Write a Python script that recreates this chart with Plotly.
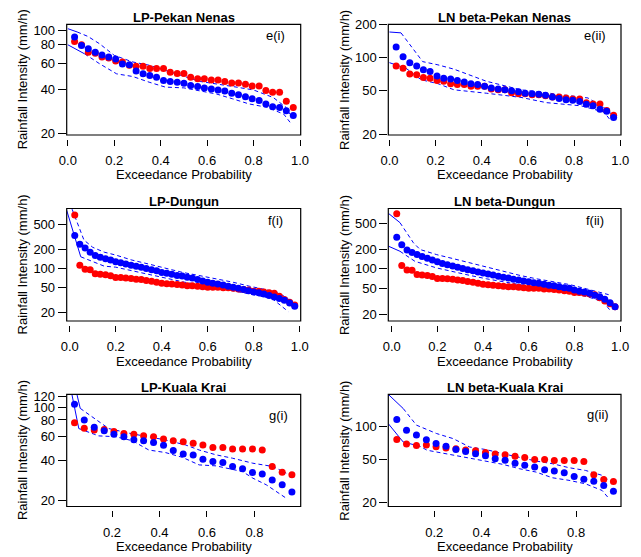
import plotly.graph_objects as go

W, H = 641, 557

# ---------------- data ----------------
# exceedance probabilities of the ranked observations
p_pekan = [0.029, 0.059, 0.088, 0.118, 0.147, 0.176, 0.206, 0.235, 0.265, 0.294, 0.324,
           0.353, 0.382, 0.412, 0.441, 0.471, 0.5, 0.529, 0.559, 0.588, 0.618, 0.647,
           0.676, 0.706, 0.735, 0.765, 0.794, 0.824, 0.853, 0.882, 0.912, 0.941, 0.971]
p_dungun = [0.022, 0.044, 0.067, 0.089, 0.111, 0.133, 0.156, 0.178, 0.2, 0.222, 0.244,
            0.267, 0.289, 0.311, 0.333, 0.356, 0.378, 0.4, 0.422, 0.444, 0.467, 0.489,
            0.511, 0.533, 0.556, 0.578, 0.6, 0.622, 0.644, 0.667, 0.689, 0.711, 0.733,
            0.756, 0.778, 0.8, 0.822, 0.844, 0.867, 0.889, 0.911, 0.933, 0.956, 0.978]
p_krai = [0.042, 0.083, 0.125, 0.167, 0.208, 0.25, 0.292, 0.333, 0.375, 0.417, 0.458,
          0.5, 0.542, 0.583, 0.625, 0.667, 0.708, 0.75, 0.792, 0.833, 0.875, 0.917, 0.958]

# observed rainfall intensity (mm/h) - red
obs_pekan = [84, 80, 71, 70, 66, 65, 62, 61, 58, 57, 57, 55, 55, 55, 52, 51, 51, 48, 47,
             47, 46, 46, 45, 44, 44, 43, 42, 42, 39, 38, 38, 33, 30]
obs_dungun = [700, 112, 96, 95, 82, 80, 79, 76, 71, 71, 70, 69, 67, 66, 64, 62, 60, 58,
              57, 56, 55, 54, 53, 53, 52, 51, 50, 50, 50, 49, 49, 48, 47, 46, 45, 43, 43,
              42, 41, 40, 36, 32, 29, 26]
obs_krai = [76.4, 69.3, 67.3, 68, 65.5, 63.5, 62.5, 61, 60, 57.7, 56, 55, 53.5, 52, 49.7,
            49.7, 48.6, 48.6, 48.6, 47.7, 35.9, 32.5, 31.1]

# simulated median rainfall intensity (mm/h) - blue
sim_lp_pekan = [90, 79, 75, 71, 68, 66, 64, 59, 58.5, 53, 50.7, 49.4, 48, 45.6, 45, 44.5,
                43.8, 42.2, 41.6, 40.7, 40, 39.4, 38.7, 37.5, 36.6, 35.5, 34.3, 33.4, 31.7,
                30.3, 30, 28.5, 26.4]
sim_ln_pekan = [125, 102, 90, 84, 77.5, 75, 68, 65, 64, 62, 60, 58, 57, 55, 53, 52, 51, 50,
                49, 47.5, 47, 46.5, 45.5, 44, 42.5, 41.5, 41, 40, 37.7, 36.5, 34, 32.6, 28.6]
sim_lp_dungun = [330, 240, 210, 180, 160, 150, 142, 135, 127, 122, 117, 112, 108, 104, 99,
                 95, 91, 86, 83, 80, 77, 75, 72, 70, 66, 63, 60, 58, 56, 54, 52, 50, 48,
                 46, 44, 42, 41, 39, 37, 35, 33, 31, 28, 25]
sim_ln_dungun = [305, 235, 195, 178, 166, 154, 145, 137, 128, 121, 115, 110, 106, 101, 97,
                 93, 89, 86, 83, 80, 77, 74, 72, 69, 67, 65, 63, 61, 60, 58, 56, 55, 53,
                 51, 50, 47, 45, 44, 42, 39, 37, 34, 30, 26]
sim_lp_krai = [104.7, 80, 70.5, 66.5, 62.5, 60, 56.8, 56, 54.2, 51.8, 47.2, 44.6, 43.8,
               40.7, 39.1, 38.4, 35.9, 34.5, 32.4, 31.6, 28.5, 26.2, 23.1]
sim_ln_krai = [117, 93, 84, 76, 70, 66, 61.5, 59, 56.4, 54, 50.7, 49, 46, 44, 42.4, 40,
               38.9, 37.5, 34.7, 32.7, 31.2, 28.6, 25.3]

# uncertainty bounds (blue dashed)
lp_pekan_up_x = [0, 0.04, 0.086, 0.137, 0.2, 0.28, 0.35, 0.42, 0.51, 0.57, 0.71, 0.8, 0.885, 0.94, 0.957]
lp_pekan_up = [102.6, 97.5, 91, 81, 67.6, 61, 58, 53.5, 48, 45, 41.6, 39.4, 35, 30, 27]
lp_pekan_lo_x = [0, 0.072, 0.137, 0.21, 0.28, 0.35, 0.42, 0.5, 0.57, 0.64, 0.71, 0.78, 0.86, 0.93, 0.957]
lp_pekan_lo = [79.8, 69.3, 59.3, 50.7, 48.6, 44.5, 41.2, 40.7, 39, 37, 34.3, 31.7, 30, 27, 23.8]

ln_pekan_up_x = [0, 0.05, 0.144, 0.21, 0.28, 0.42, 0.5, 0.57, 0.71, 0.86, 0.94, 0.96]
ln_pekan_up = [171, 168, 92, 86, 78.5, 61, 55, 51, 47, 43, 34, 31]
ln_pekan_lo_x = [0, 0.072, 0.137, 0.21, 0.28, 0.42, 0.57, 0.68, 0.83, 0.93, 0.96]
ln_pekan_lo = [90, 80, 63, 58, 51, 47.5, 43.5, 39, 36.5, 32, 26.5]

lp_dungun_up_x = [-0.013, 0.011, 0.062, 0.1, 0.15, 0.2, 0.27, 0.35, 0.42, 0.49, 0.56, 0.64, 0.71, 0.78, 0.85, 0.91, 0.95]
lp_dungun_up = [1400, 855, 280, 215, 180, 162, 135, 115, 99, 86, 77, 68, 60, 52, 46, 40, 33]
lp_dungun_lo_x = [-0.013, 0.048, 0.1, 0.15, 0.2, 0.3, 0.4, 0.5, 0.6, 0.7, 0.8, 0.88, 0.95]
lp_dungun_lo = [830, 152, 127, 108, 104, 86, 71, 60, 52, 45, 38, 33, 20.5]

ln_dungun_up_x = [-0.015, 0.036, 0.095, 0.124, 0.197, 0.27, 0.343, 0.416, 0.489, 0.562, 0.635, 0.708, 0.781, 0.854, 0.927, 0.95]
ln_dungun_up = [714, 513, 251, 198, 165, 143, 123, 105, 91, 79, 70, 62.5, 57, 49, 42, 40]
ln_dungun_lo_x = [-0.015, 0.036, 0.102, 0.197, 0.27, 0.343, 0.416, 0.489, 0.562, 0.635, 0.708, 0.781, 0.854, 0.927, 0.956]
ln_dungun_lo = [223, 186, 130, 103, 89, 79, 70, 62.5, 57, 52, 46, 42, 37.5, 31, 23]

lp_krai_up_x = [0.042, 0.066, 0.186, 0.285, 0.426, 0.51, 0.567, 0.638, 0.708, 0.793, 0.878, 0.934]
lp_krai_up = [148, 97.7, 69, 63, 56.7, 52, 47.7, 43.9, 41.4, 38, 35.9, 32]
lp_krai_lo_x = [0.025, 0.06, 0.144, 0.214, 0.285, 0.355, 0.426, 0.497, 0.567, 0.638, 0.708, 0.75, 0.793, 0.85, 0.934]
lp_krai_lo = [140, 69, 60.8, 60, 56, 47.7, 45.6, 42, 36.9, 36.3, 33.9, 32.9, 29.4, 26.2, 20.8]

ln_krai_up_x = [0.006, 0.069, 0.125, 0.21, 0.28, 0.35, 0.42, 0.49, 0.56, 0.63, 0.7, 0.77, 0.84, 0.91, 0.94]
ln_krai_up = [200, 148, 103.7, 86.7, 77.8, 65, 61.5, 56.4, 51.8, 48.2, 45.5, 41.8, 39.4, 35.5, 31.9]
ln_krai_lo_x = [0.006, 0.069, 0.14, 0.17, 0.21, 0.28, 0.35, 0.42, 0.49, 0.56, 0.63, 0.7, 0.77, 0.84, 0.91, 0.94]
ln_krai_lo = [107, 72.4, 66, 60.7, 58.5, 54.5, 51.8, 48.2, 44.9, 40.9, 38.1, 33.7, 31.9, 29.6, 25.7, 21.5]

titles = ["LP-Pekan Nenas", "LN beta-Pekan Nenas", "LP-Dungun", "LN beta-Dungun",
          "LP-Kuala Krai", "LN beta-Kuala Krai"]
tags = ["e(i)", "e(ii)", "f(i)", "f(ii)", "g(i)", "g(ii)"]
x_label = "Exceedance Probability"
y_label = "Rainfall Intensity (mm/h)"

xt_full = [0, 0.2, 0.4, 0.6, 0.8, 1.0]
xt_full_text = ["0.0", "0.2", "0.4", "0.6", "0.8", "1.0"]
xt_krai = [0.2, 0.4, 0.6, 0.8]
xt_krai_text = ["0.2", "0.4", "0.6", "0.8"]

yt_e1 = [20, 40, 60, 80, 100]
yt_e2 = [20, 50, 100, 200]
yt_f = [20, 50, 100, 200, 500]
yt_g1 = [20, 40, 60, 80, 100, 120]
yt_g2 = [20, 50, 100]

panels = [
    dict(p=p_pekan, obs=obs_pekan, sim=sim_lp_pekan,
         bounds=[(lp_pekan_up_x, lp_pekan_up), (lp_pekan_lo_x, lp_pekan_lo)],
         xt=xt_full, xtt=xt_full_text, yt=yt_e1),
    dict(p=p_pekan, obs=obs_pekan, sim=sim_ln_pekan,
         bounds=[(ln_pekan_up_x, ln_pekan_up), (ln_pekan_lo_x, ln_pekan_lo)],
         xt=xt_full, xtt=xt_full_text, yt=yt_e2),
    dict(p=p_dungun, obs=obs_dungun, sim=sim_lp_dungun,
         bounds=[(lp_dungun_up_x, lp_dungun_up), (lp_dungun_lo_x, lp_dungun_lo)],
         xt=xt_full, xtt=xt_full_text, yt=yt_f),
    dict(p=p_dungun, obs=obs_dungun, sim=sim_ln_dungun,
         bounds=[(ln_dungun_up_x, ln_dungun_up), (ln_dungun_lo_x, ln_dungun_lo)],
         xt=xt_full, xtt=xt_full_text, yt=yt_f),
    dict(p=p_krai, obs=obs_krai, sim=sim_lp_krai,
         bounds=[(lp_krai_up_x, lp_krai_up), (lp_krai_lo_x, lp_krai_lo)],
         xt=xt_krai, xtt=xt_krai_text, yt=yt_g1),
    dict(p=p_krai, obs=obs_krai, sim=sim_ln_krai,
         bounds=[(ln_krai_up_x, ln_krai_up), (ln_krai_lo_x, ln_krai_lo)],
         xt=xt_krai, xtt=xt_krai_text, yt=yt_g2),
]

# ---------------- layout geometry (pixels in the page) ----------------
col_px = [(66.7, 300.7), (388.3, 621.0)]
row_px = [(24.3, 135.0), (208.5, 321.0), (394.3, 506.5)]
x_ranges = [[-0.005, 1.003], [-0.005, 1.003], [-0.013, 1.004], [-0.015, 1.004],
            [0.009, 0.995], [0.006, 0.99]]
y_ranges = [[1.29, 2.041], [1.297, 2.303], [1.163, 2.948], [1.197, 2.927],
            [1.256, 2.095], [1.261, 2.302]]
tag_px = [(275, 35), (595, 35), (275, 220), (595, 220), (278, 415), (598, 414)]

RED = "#FF0000"
BLUE = "#0000FF"
FONT = "Liberation Sans, Arial, sans-serif"

OFF = 8                      # default page body margin
FW, FH = W - OFF, H - OFF    # figure size so it fills the window


def fx(px):
    return (px - OFF) / FW


def fy(py):
    return 1 - (py - OFF) / FH


fig = go.Figure()
layout = dict(width=FW, height=FH,
              margin=dict(l=0, r=0, t=0, b=0, pad=0, autoexpand=False),
              paper_bgcolor="white", plot_bgcolor="white", showlegend=False,
              font=dict(family=FONT, size=13, color="black"))
annotations = []
shapes = []

for k, pan in enumerate(panels):
    n = k + 1
    sfx = "" if n == 1 else str(n)
    xa, ya = "x" + sfx, "y" + sfx
    col, row = k % 2, k // 2
    x0, x1 = col_px[col]
    y0, y1 = row_px[row]

    # bounds: first segment solid, remainder dashed
    for bx, by in pan["bounds"]:
        fig.add_trace(go.Scatter(x=bx[:2], y=by[:2], mode="lines", xaxis=xa, yaxis=ya,
                                 line=dict(color=BLUE, width=1), hoverinfo="skip"))
        fig.add_trace(go.Scatter(x=bx[1:], y=by[1:], mode="lines", xaxis=xa, yaxis=ya,
                                 line=dict(color=BLUE, width=1, dash="4px,3px"),
                                 hoverinfo="skip"))
    fig.add_trace(go.Scatter(x=pan["p"], y=pan["obs"], mode="markers", xaxis=xa, yaxis=ya,
                             marker=dict(color=RED, size=7, line=dict(width=0))))
    fig.add_trace(go.Scatter(x=pan["p"], y=pan["sim"], mode="markers", xaxis=xa, yaxis=ya,
                             marker=dict(color=BLUE, size=7, line=dict(width=0))))

    layout["xaxis" + sfx] = dict(domain=[fx(x0), fx(x1)], range=x_ranges[k],
                                 anchor="free", position=fy(y1 + 3.5), automargin=False,
                                 tickvals=pan["xt"], ticktext=pan["xtt"],
                                 ticks="outside", ticklen=6, tickwidth=1, tickcolor="black",
                                 ticklabelstandoff=4,
                                 showgrid=False, zeroline=False, showline=False,
                                 tickfont=dict(size=13, color="black", family=FONT))
    layout["yaxis" + sfx] = dict(domain=[fy(y1), fy(y0)], type="log", range=y_ranges[k],
                                 anchor=xa, tickvals=pan["yt"], automargin=False,
                                 ticktext=[str(v) for v in pan["yt"]],
                                 ticks="outside", ticklen=8, tickwidth=1, tickcolor="black",
                                 showgrid=False, zeroline=False, showline=False,
                                 tickfont=dict(size=13, color="black", family=FONT))

    shapes.append(dict(type="rect", xref=f"{xa} domain", yref=f"{ya} domain",
                       x0=0, x1=1, y0=0, y1=1, line=dict(color="black", width=1.2),
                       fillcolor="rgba(0,0,0,0)"))

    cx = (x0 + x1) / 2
    annotations.append(dict(x=fx(cx), y=fy(y0 - 7), xref="paper", yref="paper",
                            text=f"<b>{titles[k]}</b>", showarrow=False,
                            xanchor="center", yanchor="middle",
                            font=dict(size=13, color="black", family=FONT)))
    annotations.append(dict(x=fx(tag_px[k][0]), y=fy(tag_px[k][1]), xref="paper",
                            yref="paper", text=tags[k], showarrow=False,
                            xanchor="center", yanchor="middle",
                            font=dict(size=13, color="black", family=FONT)))
    annotations.append(dict(x=fx(cx), y=fy(y1 + 40), xref="paper", yref="paper",
                            text=x_label, showarrow=False, xanchor="center",
                            yanchor="middle",
                            font=dict(size=13, color="black", family=FONT)))
    annotations.append(dict(x=fx(x0 - 44), y=fy((y0 + y1) / 2), xref="paper",
                            yref="paper", text=y_label, showarrow=False, textangle=-90,
                            xanchor="center", yanchor="middle",
                            font=dict(size=13, color="black", family=FONT)))

layout["annotations"] = annotations
layout["shapes"] = shapes
fig.update_layout(**layout)
fig.write_html("out.html")
